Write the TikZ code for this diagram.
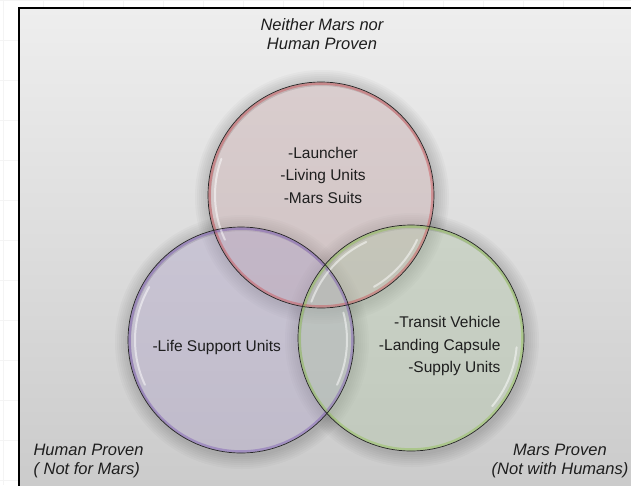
\documentclass[tikz,border=0pt]{standalone}
\usepackage{fontspec}
\setmainfont{Liberation Sans}
\usetikzlibrary{calc}

\definecolor{paneltop}{RGB}{238,238,238}
\definecolor{panelbottom}{RGB}{202,202,202}
\definecolor{gridgray}{RGB}{244,244,244}
\definecolor{labelgray}{RGB}{30,30,30}
\definecolor{nonefill}{RGB}{196,165,167}
\definecolor{humanfill}{RGB}{172,160,198}
\definecolor{marsfill}{RGB}{176,196,166}
\definecolor{nonering}{RGB}{205,80,85}
\definecolor{humanring}{RGB}{125,90,180}
\definecolor{marsring}{RGB}{145,195,80}

\tikzset{set/.style={circle,minimum size=226pt,inner sep=0pt,fill opacity=0.4}}
\tikzset{ring/.style={line width=2.6pt,draw opacity=0.45}}
\tikzset{rim/.style={draw=black!85,line width=0.7pt}}
\tikzset{gloss/.style={white,line width=2pt,draw opacity=0.5,line cap=round}}
\tikzset{items/.style={text=labelgray,font=\fontsize{15.5}{22.5}\selectfont}}
\tikzset{corner/.style={text=labelgray,font=\fontsize{16.5}{19.5}\selectfont\itshape}}

\begin{document}
\begin{tikzpicture}[x=1pt,y=-1pt]
\useasboundingbox (0,0) rectangle (631,485);

% faint sheet grid behind the panel
\foreach \gx in {3,43,...,603}
  \draw[gridgray] (\gx,0) -- (\gx,485);
\foreach \gy in {0,40,...,480}
  \draw[gridgray] (0,\gy) -- (631,\gy);

% panel
\shadedraw[top color=paneltop,bottom color=panelbottom,draw=black,line width=1.5pt]
  (19,8) rectangle (645,500);

\coordinate (cnone) at (321,195);
\coordinate (chuman) at (241,340);
\coordinate (cmars) at (411,338);

% soft shadows
\foreach \c in {cnone,chuman,cmars}
  \foreach \d in {2,4,...,14}
    \fill[black,opacity=0.022,even odd rule]
      ($(\c)+(1,2)$) circle[radius=113pt+\d pt] ($(\c)+(1,2)$) circle[radius=111pt];

% the three sets
\node[set,fill=nonefill] (none) at (cnone) {};
\node[set,fill=humanfill] (human) at (chuman) {};
\node[set,fill=marsfill] (mars) at (cmars) {};

\draw[ring,nonering] (none.center) circle[radius=111.5pt];
\draw[ring,humanring] (human.center) circle[radius=111.5pt];
\draw[ring,marsring] (mars.center) circle[radius=111.5pt];

% glossy streaks
\draw[gloss] ($(none.center)+(160:106pt)$) arc[start angle=160,end angle=205,radius=106pt];
\draw[gloss] ($(none.center)+(-60:106pt)$) arc[start angle=-60,end angle=-25,radius=106pt];
\draw[gloss] ($(human.center)+(150:106pt)$) arc[start angle=150,end angle=205,radius=106pt];
\draw[gloss] ($(human.center)+(-25:106pt)$) arc[start angle=-25,end angle=15,radius=106pt];
\draw[gloss] ($(mars.center)+(115:106pt)$) arc[start angle=115,end angle=160,radius=106pt];
\draw[gloss] ($(mars.center)+(-40:106pt)$) arc[start angle=-40,end angle=-5,radius=106pt];

\draw[rim] (none.center) circle[radius=113pt];
\draw[rim] (human.center) circle[radius=113pt];
\draw[rim] (mars.center) circle[radius=113pt];

% set contents
\node[items,align=center] (nonelist) at (323,175) {-Launcher\\-Living Units\\-Mars Suits};
\node[items,anchor=west] (humanlist) at (149,347) {-Life Support Units};
\node[items,align=right,anchor=east] (marslist) at (504,346) {-Transit Vehicle\\-Landing Capsule\\-Supply Units};

% corner captions
\node[corner,align=center] (neither) at (322,34) {Neither Mars nor\\Human Proven};
\node[corner,align=left,anchor=west] (humancap) at (30,461) {Human Proven\\( Not for Mars)};
\node[corner,align=center] (marscap) at (560,461) {Mars Proven\\(Not with Humans)};
\end{tikzpicture}
\end{document}
